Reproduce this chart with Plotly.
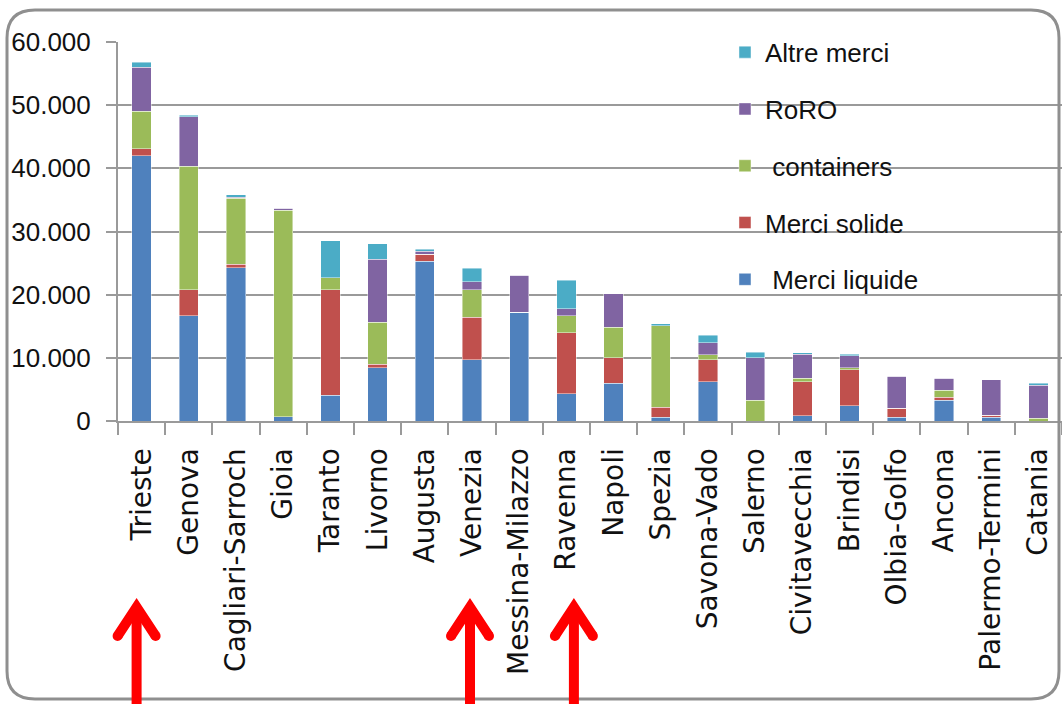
import plotly.graph_objects as go

ports = ["Trieste", "Genova", "Cagliari-Sarroch", "Gioia", "Taranto", "Livorno",
         "Augusta", "Venezia", "Messina-Milazzo", "Ravenna", "Napoli", "Spezia",
         "Savona-Vado", "Salerno", "Civitavecchia", "Brindisi", "Olbia-Golfo",
         "Ancona", "Palermo-Termini", "Catania"]

merci_liquide = [42000, 16700, 24300, 700, 4100, 8400, 25300, 9700, 17200, 4300,
                 6000, 600, 6200, 0, 850, 2400, 600, 3300, 600, 0]
merci_solide = [1100, 4050, 500, 0, 16650, 600, 1100, 6750, 0, 9650,
                4000, 1600, 3500, 0, 5400, 5700, 1400, 500, 300, 0]
containers = [5900, 19600, 10450, 32700, 1900, 6600, 0, 4300, 0, 2750,
              4850, 12900, 800, 3300, 500, 300, 0, 1100, 0, 400]
roro = [7000, 7800, 200, 300, 0, 10000, 500, 1300, 5900, 1100,
        5300, 0, 1900, 6750, 3800, 1950, 5050, 1850, 5600, 5300]
altre_merci = [800, 270, 350, 0, 5900, 2500, 300, 2100, 0, 4500,
               0, 270, 1150, 800, 270, 200, 0, 0, 0, 300]

series = [
    ("\u00a0Merci liquide", merci_liquide, "#4F81BD"),
    ("Merci solide", merci_solide, "#C0504D"),
    ("\u00a0containers", containers, "#9BBB59"),
    ("RoRO", roro, "#8064A2"),
    ("Altre merci", altre_merci, "#4BACC6"),
]

highlighted = ["Trieste", "Venezia", "Ravenna"]
highlight_shift_px = [-5, -2, 7.5]

W, H = 1062, 704
L, R, T, B = 118, 0, 42, 283
PW, PH = W - L - R, H - T - B


def px2paper(px, py):
    return (px - L) / PW, (H - B - py) / PH


def P(px, py):
    x, y = px2paper(px, py)
    return f"{x:.5f},{y:.5f}"


fig = go.Figure()
ns = len(series)
for i, (name, vals, col) in enumerate(series):
    fig.add_trace(go.Bar(
        x=ports, y=vals, name=name, legendgroup=f"g{i}", legendrank=ns - i,
        marker=dict(color=col, line=dict(color="rgba(255,255,255,0.55)", width=0.8)),
    ))

shapes = []
# rounded frame
x0, x1, y0, y1, r = 7, 1059, 10, 699, 28
frame = (f"M {P(x0 + r, y0)} L {P(x1 - r, y0)} Q {P(x1, y0)} {P(x1, y0 + r)} "
         f"L {P(x1, y1 - r)} Q {P(x1, y1)} {P(x1 - r, y1)} L {P(x0 + r, y1)} "
         f"Q {P(x0, y1)} {P(x0, y1 - r)} L {P(x0, y0 + r)} Q {P(x0, y0)} {P(x0 + r, y0)} Z")
shapes.append(dict(type="path", path=frame, xref="paper", yref="paper",
                   line=dict(color="#8f8f8f", width=3), layer="above"))

# red arrows
n = len(ports)
for name, sh in zip(highlighted, highlight_shift_px):
    idx = ports.index(name)
    cx = L + (idx + 0.5) * PW / n + sh
    red = "#FF0000"
    shapes.append(dict(type="line", xref="paper", yref="paper",
                       x0=px2paper(cx, 0)[0], x1=px2paper(cx, 0)[0],
                       y0=px2paper(0, 710)[1], y1=px2paper(0, 607)[1],
                       line=dict(color=red, width=10)))
    shapes.append(dict(type="path", xref="paper", yref="paper",
                       path=f"M {P(cx - 19, 636)} L {P(cx, 607)} L {P(cx + 19, 636)}",
                       line=dict(color=red, width=10)))
    for ex in (cx - 19, cx + 19):
        ax0, ay0 = px2paper(ex - 5, 641)
        ax1, ay1 = px2paper(ex + 5, 631)
        shapes.append(dict(type="circle", xref="paper", yref="paper",
                           x0=ax0, x1=ax1, y0=ay0, y1=ay1,
                           fillcolor=red, line=dict(width=0)))

grid = "#9a9a9a"
fig.update_layout(
    width=W, height=H, autosize=False,
    margin=dict(l=L, r=R, t=T, b=B, pad=0),
    barmode="stack", bargap=0.59,
    paper_bgcolor="white", plot_bgcolor="white",
    separators=",.",
    shapes=shapes,
    showlegend=True,
    legend=dict(
        x=0.643, y=1.035, xanchor="left", yanchor="top",
        traceorder="grouped", tracegroupgap=20,
        font=dict(family="Liberation Sans, Arial, sans-serif", size=26, color="#111"),
        bgcolor="rgba(0,0,0,0)",
    ),
    xaxis=dict(
        type="category", tickangle=-90,
        tickfont=dict(family="DejaVu Sans, Verdana, sans-serif", size=28, color="#111"),
        ticks="outside", tickson="boundaries", ticklen=12, tickcolor=grid, tickwidth=2,
        showline=True, linecolor=grid, linewidth=2,
        showgrid=False, ticklabelstandoff=14,
    ),
    yaxis=dict(
        range=[0, 60000], dtick=10000, tickformat=",.0f",
        tickfont=dict(family="Liberation Sans, Arial, sans-serif", size=26, color="#111"),
        ticks="outside", ticklen=10, tickcolor=grid, tickwidth=2,
        showline=True, linecolor=grid, linewidth=2,
        showgrid=True, gridcolor=grid, gridwidth=2,
        zeroline=False, ticklabelstandoff=10,
    ),
)

fig.write_html("out.html")
